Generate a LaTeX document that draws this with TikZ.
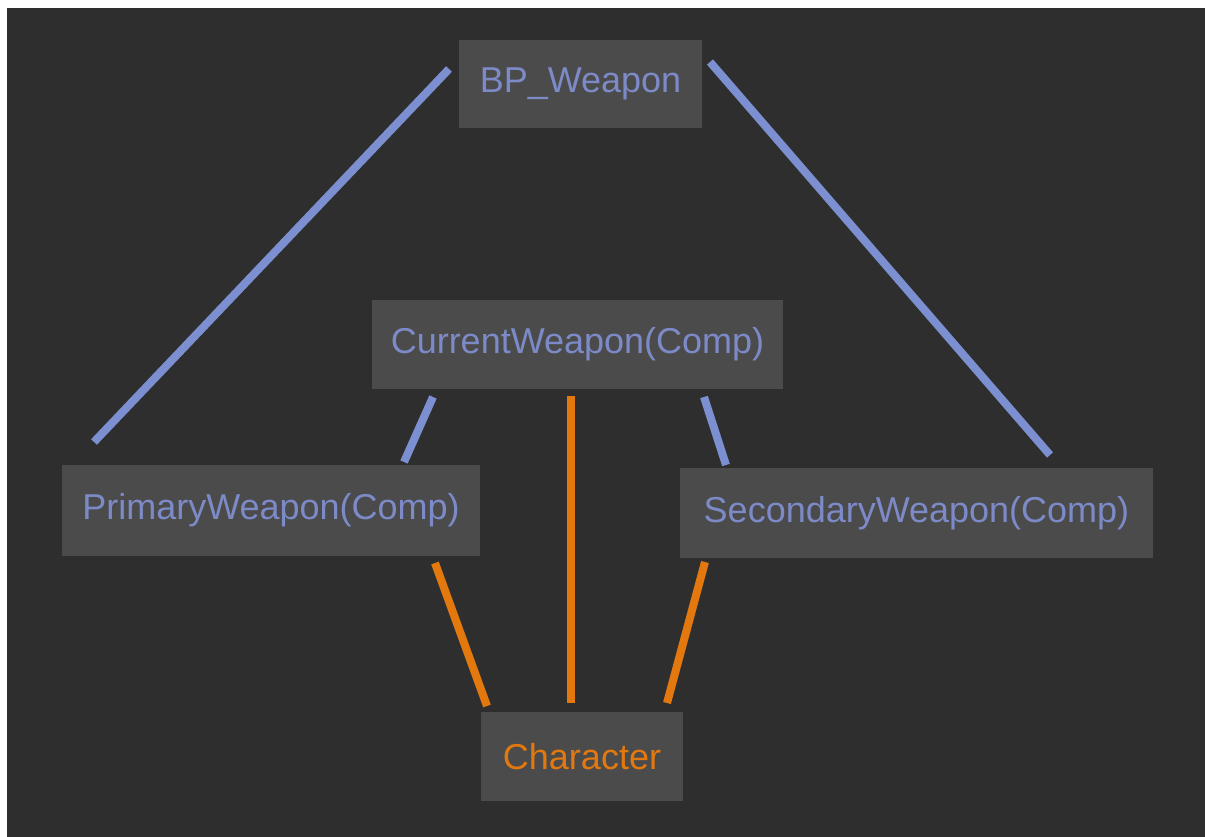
\documentclass[tikz,border=0pt]{standalone}
\usepackage{fontspec}
\setmainfont{Liberation Sans}
\definecolor{bgdark}{HTML}{2E2E2E}
\definecolor{boxgray}{HTML}{4B4B4B}
\definecolor{txtblue}{HTML}{7D8AC8}
\definecolor{lnblue}{HTML}{7C8FD0}
\definecolor{orng}{HTML}{E2780E}
\tikzset{
  box/.style={fill=boxgray, draw=none, inner sep=0pt, font=\fontsize{36}{40}\selectfont, text=txtblue},
  blueline/.style={draw=lnblue, line width=8pt},
  orangeline/.style={draw=orng, line width=8pt},
}
\begin{document}
\begin{tikzpicture}[x=1pt,y=-1pt]
\useasboundingbox (0,0) rectangle (1205,837);
\fill[white] (0,0) rectangle (1205,837);
\fill[bgdark] (7,8) rectangle (1205,837);

\node[box, minimum width=243pt, minimum height=88pt] (bp) at (580.5,84) {BP\_Weapon};
\node[box, minimum width=411pt, minimum height=89pt] (cur) at (577.5,344.5) {CurrentWeapon(Comp)};
\node[box, minimum width=418pt, minimum height=91pt] (pri) at (271,510.5) {PrimaryWeapon(Comp)};
\node[box, minimum width=473pt, minimum height=90pt] (sec) at (916.5,513) {SecondaryWeapon(Comp)};
\node[box, minimum width=202pt, minimum height=89pt, text=orng] (chr) at (582,756.5) {Character};

% connector end points (connectors stop short of the boxes)
\coordinate (bpL) at (449,69);
\coordinate (priT) at (94,442);
\coordinate (bpR) at (710,62);
\coordinate (secT) at (1050,455);
\coordinate (curL) at (433,397);
\coordinate (priR) at (404,462);
\coordinate (curR) at (704,397);
\coordinate (secL) at (726,465);
\coordinate (curB) at (571,396);
\coordinate (chrT) at (571,703);
\coordinate (priB) at (435,563);
\coordinate (chrL) at (487,706);
\coordinate (secB) at (705,562);
\coordinate (chrR) at (667,703);

\draw[blueline] (bpL) -- (priT);
\draw[blueline] (bpR) -- (secT);
\draw[blueline] (curL) -- (priR);
\draw[blueline] (curR) -- (secL);
\draw[orangeline] (curB) -- (chrT);
\draw[orangeline] (priB) -- (chrL);
\draw[orangeline] (secB) -- (chrR);
\end{tikzpicture}
\end{document}
